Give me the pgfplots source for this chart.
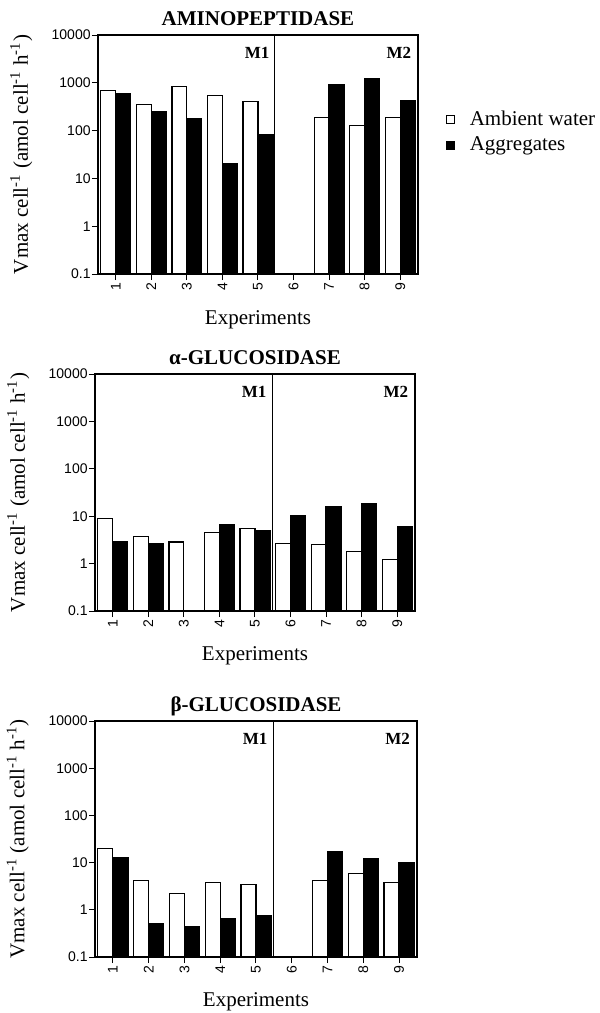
\documentclass[border=0pt]{standalone}
\usepackage{fontspec}
\setmainfont{Liberation Serif}
\newfontfamily\tickfont{Liberation Sans}
\usepackage{pgfplots}
\pgfplotsset{compat=1.18}
\usepackage{pgfplotstable}

\pgfplotstableread{
x y
1 700
2 350
3 830
4 540
5 410
7 190
8 127
9 190
}\aminoW
\pgfplotstableread{
x y
1 585
2 245
3 180
4 20
5 81
7 930
8 1230
9 415
}\aminoB
\pgfplotstableread{
x y
1 9.0
2 3.8
3 2.85
4 4.5
5 5.6
6 2.7
7 2.5
8 1.8
9 1.2
}\alphaW
\pgfplotstableread{
x y
1 2.85
2 2.6
4 6.8
5 5.0
6 10.2
7 16
8 18.5
9 6.0
}\alphaB
\pgfplotstableread{
x y
1 20
2 4.2
3 2.25
4 3.8
5 3.4
7 4.2
8 5.8
9 3.8
}\betaW
\pgfplotstableread{
x y
1 12.8
2 0.51
3 0.45
4 0.64
5 0.77
7 16.8
8 12.2
9 10.2
}\betaB

\pgfplotsset{
  every axis/.append style={
    scale only axis,
    ymin=0.1, ymax=10000,
    xmin=0.5, xmax=9.5,
    ytick={0.1,1,10,100,1000,10000},
    yticklabels={0.1,1,10,100,1000,10000},
    xtick={1,2,3,4,5,6,7,8,9},
    xticklabels={1,2,3,4,5,6,7,8,9},
    minor tick length=0pt,
    tick align=outside,
    tick pos=left,
    major tick length=3pt,
    axis line style={line width=0.6pt},
    tick style={line width=0.5pt, black},
    ticklabel style={font=\tickfont\fontsize{7}{8}\selectfont},
    yticklabel style={inner sep=0.5pt},
    xticklabel style={rotate=90, anchor=east, inner sep=1pt},
    ylabel={Vmax cell\textsuperscript{-1} (amol cell\textsuperscript{-1} h\textsuperscript{-1})},
    xlabel={Experiments},
    label style={font=\fontsize{10.5}{12}\selectfont},
    ylabel style={at={(axis description cs:-0.24,0.5)}, anchor=center},
    xlabel style={at={(axis description cs:0.5,-0.19)}, anchor=center},
    title style={at={(axis description cs:0.5,1)}, anchor=base, yshift=-1pt, font=\bfseries\fontsize{10.5}{12}\selectfont},
    clip=false,
  },
}

\begin{document}
\begin{tikzpicture}
\useasboundingbox (0,0) rectangle (300pt,-506.5pt);

\begin{axis}[ymode=log, log origin y=infty, at={(49pt,-17.5pt)}, anchor=north west, width=160pt, height=119.5pt,
  title={AMINOPEPTIDASE},
  legend style={at={(axis description cs:1.085,0.70)}, anchor=north west, draw=none, fill=none,
    inner sep=0pt, font=\fontsize{10.5}{12}\selectfont, row sep=0pt, column sep=5.5pt},
  legend cell align=left,
]
\addplot[ybar, bar width=0.42, bar shift=-0.21, fill=white, draw=black, line width=0.6pt, forget plot] table[x=x,y=y] {\aminoW};
\addplot[ybar, bar width=0.42, bar shift=0.21, fill=black, draw=black, line width=0.6pt, forget plot] table[x=x,y=y] {\aminoB};
\addlegendimage{legend image code/.code={\draw[fill=white,draw=black,line width=0.6pt] (0pt,-2pt) rectangle (4pt,2pt);}}
\addlegendentry{Ambient water}
\addlegendimage{legend image code/.code={\draw[fill=black,draw=black,line width=0.6pt] (0pt,-2pt) rectangle (4pt,2pt);}}
\addlegendentry{Aggregates}
\draw[line width=0.4pt] (axis cs:5.45,0.1) -- (axis cs:5.45,10000);
\node[font=\bfseries\fontsize{8.5}{10}\selectfont] at (axis description cs:0.497,0.925) {M1};
\node[font=\bfseries\fontsize{8.5}{10}\selectfont] at (axis description cs:0.94,0.925) {M2};
\end{axis}

\begin{axis}[ymode=log, log origin y=infty, at={(47.5pt,-187pt)}, anchor=north west, width=160pt, height=118.5pt,
  title={α-GLUCOSIDASE}]
\addplot[ybar, bar width=0.42, bar shift=-0.21, fill=white, draw=black, line width=0.6pt] table[x=x,y=y] {\alphaW};
\addplot[ybar, bar width=0.42, bar shift=0.21, fill=black, draw=black, line width=0.6pt] table[x=x,y=y] {\alphaB};
\draw[line width=0.4pt] (axis cs:5.48,0.1) -- (axis cs:5.48,10000);
\node[font=\bfseries\fontsize{8.5}{10}\selectfont] at (axis description cs:0.497,0.925) {M1};
\node[font=\bfseries\fontsize{8.5}{10}\selectfont] at (axis description cs:0.94,0.925) {M2};
\end{axis}

\begin{axis}[ymode=log, log origin y=infty, at={(47.5pt,-360.5pt)}, anchor=north west, width=161pt, height=118pt,
  title={β-GLUCOSIDASE}]
\addplot[ybar, bar width=0.42, bar shift=-0.21, fill=white, draw=black, line width=0.6pt] table[x=x,y=y] {\betaW};
\addplot[ybar, bar width=0.42, bar shift=0.21, fill=black, draw=black, line width=0.6pt] table[x=x,y=y] {\betaB};
\draw[line width=0.4pt] (axis cs:5.48,0.1) -- (axis cs:5.48,10000);
\node[font=\bfseries\fontsize{8.5}{10}\selectfont] at (axis description cs:0.497,0.925) {M1};
\node[font=\bfseries\fontsize{8.5}{10}\selectfont] at (axis description cs:0.94,0.925) {M2};
\end{axis}
\end{tikzpicture}
\end{document}
